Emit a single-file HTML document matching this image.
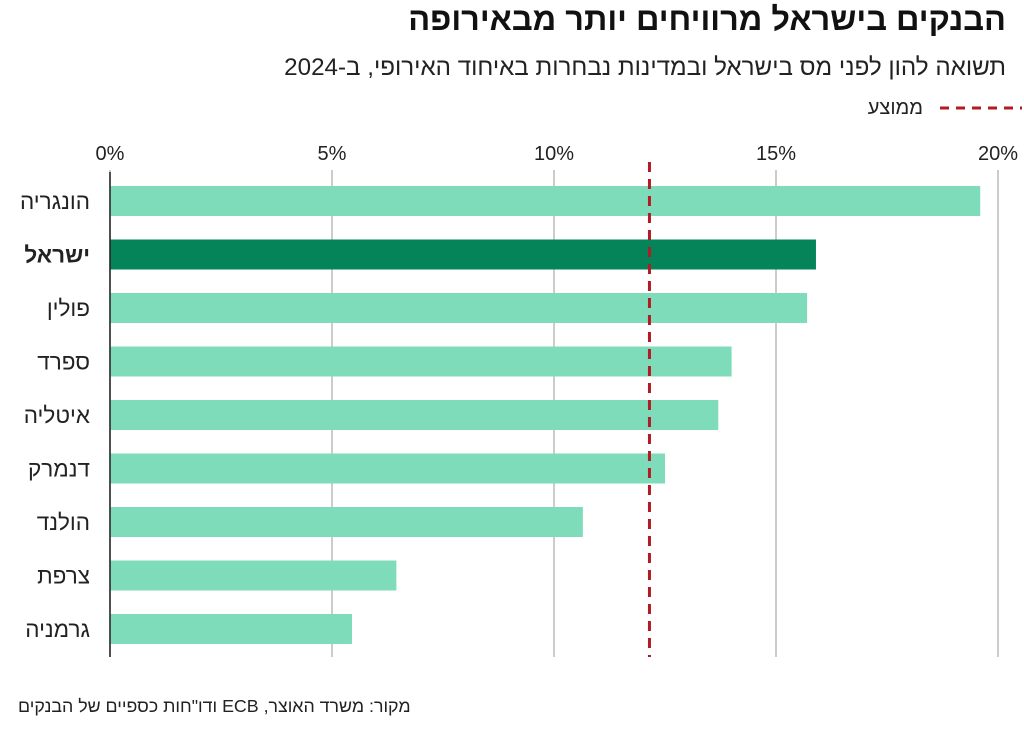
<!DOCTYPE html>
<html lang="he" dir="ltr"><head><meta charset="utf-8">
<style>
body{margin:0;background:#fff;width:1024px;height:734px;overflow:hidden;font-family:"Liberation Sans","Noto Sans CJK JP",sans-serif;}
svg text{font-family:"Liberation Sans","Noto Sans CJK JP",sans-serif;}
</style></head><body>
<svg id="c" width="1024" height="734" xmlns="http://www.w3.org/2000/svg">
<text x="1006" y="30" direction="rtl" text-anchor="start" font-size="32.5" font-weight="bold" fill="#111">הבנקים בישראל מרוויחים יותר מבאירופה</text>
<text x="1006" y="75" direction="rtl" text-anchor="start" font-size="24.2" fill="#222">תשואה להון לפני מס בישראל ובמדינות נבחרות באיחוד האירופי, ב-2024</text>
<g>
<line x1="940" y1="108" x2="1022" y2="108" stroke="#b01c22" stroke-width="3" stroke-dasharray="9,7"/>
<text x="923" y="114" text-anchor="end" font-size="20" fill="#222">ממוצע</text>
</g>
<text x="18" y="712" direction="rtl" text-anchor="end" font-size="17.8" fill="#222">מקור: משרד האוצר, ECB ודו"חות כספיים של הבנקים</text>
<g id="plot"></g>
</svg>
<script>
const categories=["הונגריה","ישראל","פולין","ספרד","איטליה","דנמרק","הולנד","צרפת","גרמניה"];
const values=[19.6,15.9,15.7,14.0,13.7,12.5,10.65,6.45,5.45];
const ticks=[0,5,10,15,20];
const tickLabels=["0%","5%","10%","15%","20%"];
const average=12.15;
const highlight="ישראל";
const NS="http://www.w3.org/2000/svg";
const x=v=>110+v*(998-110)/20;
const y=i=>201+i*53.5;
const g=document.getElementById('plot');
function el(t,a){const e=document.createElementNS(NS,t);for(const k in a)e.setAttribute(k,a[k]);g.appendChild(e);return e;}
ticks.forEach((t,i)=>{
 const l=el('line',{x1:x(t),x2:x(t),y1:170,y2:657,stroke:'#bbb','stroke-width':1.5});
 
 
 const tx=el('text',{x:x(t),y:160,'text-anchor':'middle','font-size':20,fill:'#222'});
 tx.textContent=tickLabels[i];
 
 
});
categories.forEach((c,i)=>{
 const r=el('rect',{x:x(0),y:y(i)-15,width:x(values[i])-x(0),height:30,fill:c===highlight?'#05845a':'#7fdcba'});
 
 
 const t=el('text',{x:90,y:y(i)+8,'text-anchor':'end','font-size':22.5,fill:'#222','font-weight':c===highlight?'bold':'normal'});
 t.textContent=c;
 
 
});
const ax=el('line',{x1:x(0),x2:x(0),y1:172,y2:657,stroke:'#222','stroke-width':1.5});


const av=el('line',{x1:x(average),x2:x(average),y1:162,y2:657,stroke:'#b01c22','stroke-width':3,'stroke-dasharray':'10,7'});


</script>
</body></html>
